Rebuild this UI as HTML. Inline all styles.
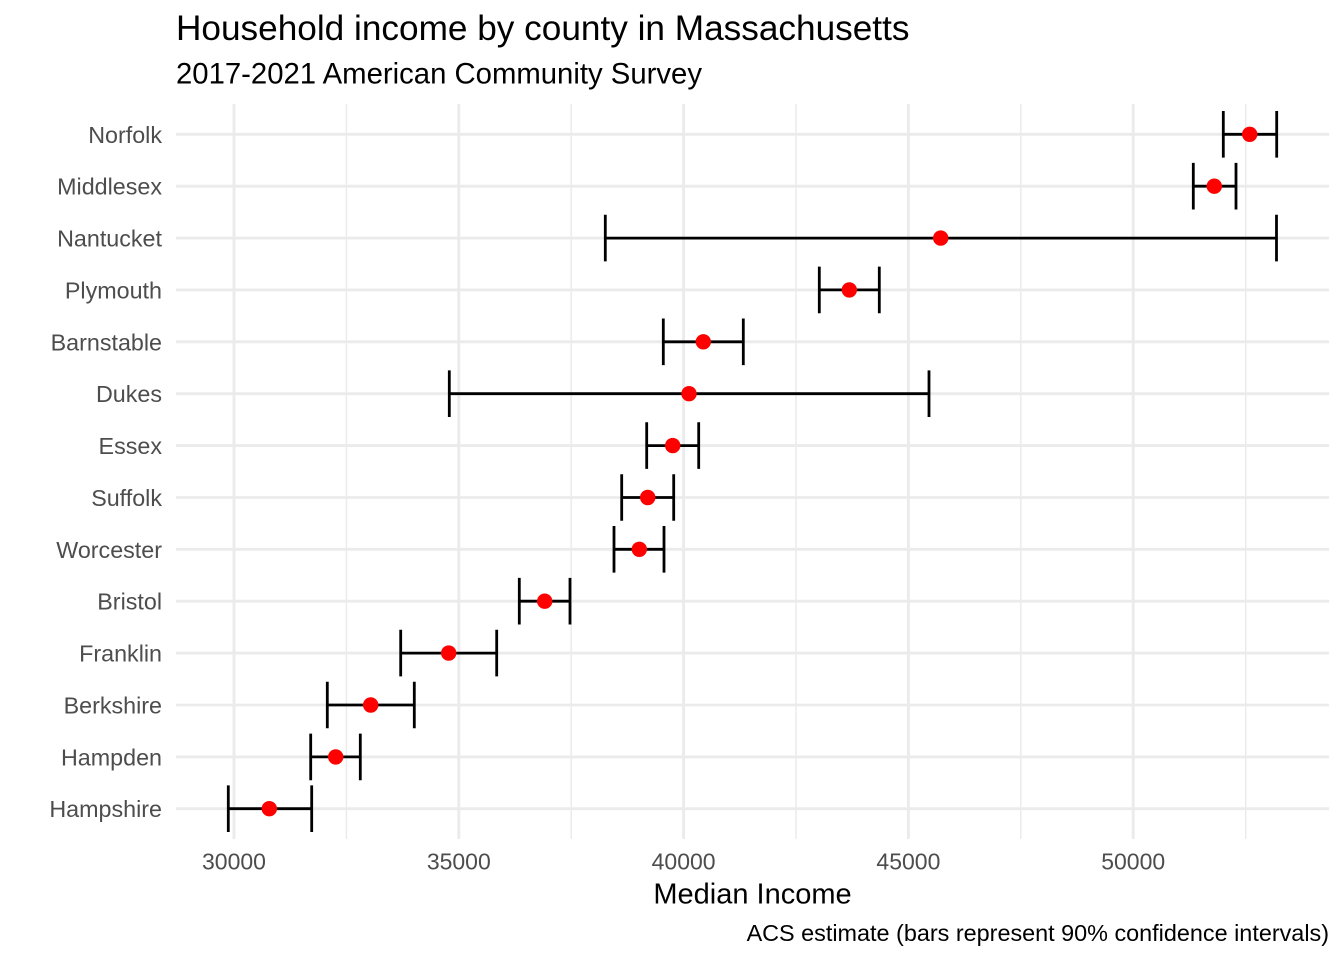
<!DOCTYPE html>
<html>
<head>
<meta charset="utf-8">
<style>
  html, body { margin:0; padding:0; background:#fff; }
  svg { display:block; }
  text { font-family: "Liberation Sans", Arial, sans-serif; }
</style>
</head>
<body>
<svg width="1344" height="960" viewBox="0 0 1344 960" xmlns="http://www.w3.org/2000/svg">
  <rect x="0" y="0" width="1344" height="960" fill="#ffffff"/>

  <!-- minor vertical grid -->
  <g stroke="#EBEBEB" stroke-width="1.45">
    <line x1="346.4" y1="104" x2="346.4" y2="839"/>
    <line x1="571.2" y1="104" x2="571.2" y2="839"/>
    <line x1="796.0" y1="104" x2="796.0" y2="839"/>
    <line x1="1020.8" y1="104" x2="1020.8" y2="839"/>
    <line x1="1245.7" y1="104" x2="1245.7" y2="839"/>
  </g>
  <!-- major vertical grid -->
  <g stroke="#EBEBEB" stroke-width="2.85">
    <line x1="234" y1="104" x2="234" y2="839"/>
    <line x1="458.8" y1="104" x2="458.8" y2="839"/>
    <line x1="683.6" y1="104" x2="683.6" y2="839"/>
    <line x1="908.4" y1="104" x2="908.4" y2="839"/>
    <line x1="1133.2" y1="104" x2="1133.2" y2="839"/>
  </g>
  <!-- major horizontal grid -->
  <g stroke="#EBEBEB" stroke-width="2.85">
    <line x1="176" y1="134.3" x2="1329" y2="134.3"/>
    <line x1="176" y1="186.2" x2="1329" y2="186.2"/>
    <line x1="176" y1="238.1" x2="1329" y2="238.1"/>
    <line x1="176" y1="289.9" x2="1329" y2="289.9"/>
    <line x1="176" y1="341.8" x2="1329" y2="341.8"/>
    <line x1="176" y1="393.7" x2="1329" y2="393.7"/>
    <line x1="176" y1="445.6" x2="1329" y2="445.6"/>
    <line x1="176" y1="497.5" x2="1329" y2="497.5"/>
    <line x1="176" y1="549.3" x2="1329" y2="549.3"/>
    <line x1="176" y1="601.2" x2="1329" y2="601.2"/>
    <line x1="176" y1="653.1" x2="1329" y2="653.1"/>
    <line x1="176" y1="705.0" x2="1329" y2="705.0"/>
    <line x1="176" y1="756.9" x2="1329" y2="756.9"/>
    <line x1="176" y1="808.7" x2="1329" y2="808.7"/>
  </g>

  <!-- error bars -->
  <g stroke="#000" stroke-width="2.8" stroke-linecap="butt" fill="none">
    <path d="M1223.3 111 V157.6 M1223.3 134.3 H1276.7 M1276.7 111 V157.6"/>
    <path d="M1193.3 162.9 V209.5 M1193.3 186.2 H1236 M1236 162.9 V209.5"/>
    <path d="M605.3 214.8 V261.4 M605.3 238.1 H1276.5 M1276.5 214.8 V261.4"/>
    <path d="M819.3 266.6 V313.2 M819.3 289.9 H879.3 M879.3 266.6 V313.2"/>
    <path d="M663.3 318.5 V365.1 M663.3 341.8 H743.3 M743.3 318.5 V365.1"/>
    <path d="M449.3 370.4 V417 M449.3 393.7 H929 M929 370.4 V417"/>
    <path d="M646.7 422.3 V468.9 M646.7 445.6 H698.7 M698.7 422.3 V468.9"/>
    <path d="M621.7 474.2 V520.8 M621.7 497.5 H673.7 M673.7 474.2 V520.8"/>
    <path d="M614 526 V572.6 M614 549.3 H664 M664 526 V572.6"/>
    <path d="M519.3 577.9 V624.5 M519.3 601.2 H570 M570 577.9 V624.5"/>
    <path d="M400.7 629.8 V676.4 M400.7 653.1 H496.7 M496.7 629.8 V676.4"/>
    <path d="M327.3 681.7 V728.3 M327.3 705 H414.3 M414.3 681.7 V728.3"/>
    <path d="M310.7 733.6 V780.2 M310.7 756.9 H360.3 M360.3 733.6 V780.2"/>
    <path d="M228.3 785.4 V832 M228.3 808.7 H311.7 M311.7 785.4 V832"/>
  </g>

  <!-- points -->
  <g fill="#FF0000">
    <circle cx="1249.7" cy="134.3" r="7.7"/>
    <circle cx="1214.3" cy="186.2" r="7.7"/>
    <circle cx="940.7" cy="238.1" r="7.7"/>
    <circle cx="849.3" cy="289.9" r="7.7"/>
    <circle cx="703.3" cy="341.8" r="7.7"/>
    <circle cx="689" cy="393.7" r="7.7"/>
    <circle cx="672.7" cy="445.6" r="7.7"/>
    <circle cx="647.7" cy="497.5" r="7.7"/>
    <circle cx="639.3" cy="549.3" r="7.7"/>
    <circle cx="544.7" cy="601.2" r="7.7"/>
    <circle cx="448.7" cy="653.1" r="7.7"/>
    <circle cx="370.7" cy="705" r="7.7"/>
    <circle cx="335.7" cy="756.9" r="7.7"/>
    <circle cx="269.3" cy="808.7" r="7.7"/>
  </g>

  <!-- y-axis labels -->
  <g fill="#4D4D4D" font-size="23.3" text-anchor="end">
    <text x="162" y="142.8">Norfolk</text>
    <text x="162" y="194.7">Middlesex</text>
    <text x="162" y="246.6">Nantucket</text>
    <text x="162" y="298.4">Plymouth</text>
    <text x="162" y="350.3">Barnstable</text>
    <text x="162" y="402.2">Dukes</text>
    <text x="162" y="454.1">Essex</text>
    <text x="162" y="506">Suffolk</text>
    <text x="162" y="557.8">Worcester</text>
    <text x="162" y="609.7">Bristol</text>
    <text x="162" y="661.6">Franklin</text>
    <text x="162" y="713.5">Berkshire</text>
    <text x="162" y="765.4">Hampden</text>
    <text x="162" y="817.2">Hampshire</text>
  </g>

  <!-- x-axis labels -->
  <g fill="#4D4D4D" font-size="23" text-anchor="middle">
    <text x="234" y="869.5">30000</text>
    <text x="458.8" y="869.5">35000</text>
    <text x="683.6" y="869.5">40000</text>
    <text x="908.4" y="869.5">45000</text>
    <text x="1133.2" y="869.5">50000</text>
  </g>

  <!-- axis title -->
  <text x="752.5" y="903.5" font-size="29" fill="#000" text-anchor="middle">Median Income</text>

  <!-- caption -->
  <text x="1329" y="941" font-size="23.4" fill="#000" text-anchor="end">ACS estimate (bars represent 90% confidence intervals)</text>

  <!-- title & subtitle -->
  <text x="176" y="40" font-size="35.2" fill="#000">Household income by county in Massachusetts</text>
  <text x="176" y="83.5" font-size="29.3" fill="#000">2017-2021 American Community Survey</text>
</svg>
</body>
</html>
